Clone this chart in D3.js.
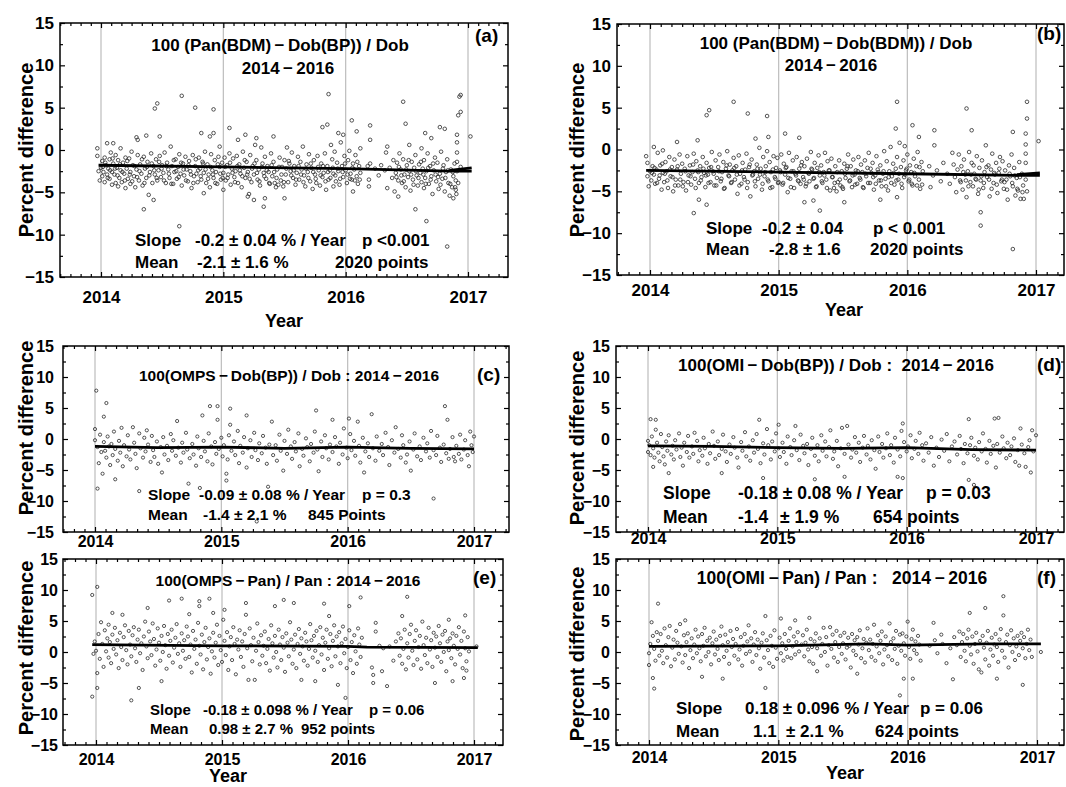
<!DOCTYPE html>
<html>
<head>
<meta charset="utf-8">
<script src="https://cdn.jsdelivr.net/npm/d3@7"></script>
<style>
body { margin: 0; background: #fff; }
svg { display: block; }
text { font-family: "Liberation Sans", Arial, sans-serif; font-weight: bold; fill: #000; }
</style>
</head>
<body>
<svg id="chart" width="1066" height="787"></svg>
<script>
// ticks
var yearTicks = [2014, 2015, 2016, 2017];
var pctTicks = [-15, -10, -5, 0, 5, 10, 15];

// points: [years since 2014-01-01, percent difference]
var ptsA = [[-0.03,0.2],[-0.03,-0.7],[-0.02,-2.5],[-0.01,-3.6],[0,-2.1],[0.01,-1.3],[0.01,-3.1],[0.02,-2.6],[0.03,-0.9],[0.03,-3.8],[0.04,-1.8],[0.05,-2.9],[0.05,0.8],[0.06,-2.2],[0.07,-1.1],[0.07,-3.4],[0.08,-0.3],[0.09,-2.6],[0.09,-4.1],[0.1,-1.6],[0.1,0.8],
[0.11,-2.9],[0.12,-3.9],[0.12,-0.6],[0.13,-2.1],[0.14,-4.3],[0.14,-1.2],[0.15,-3.3],[0.16,-2.4],[0.16,0.2],[0.17,-3.8],[0.18,-1.5],[0.19,-2.8],[0.2,-4.5],[0.2,-0.9],[0.21,-2.2],[0.22,-3.4],[0.23,-1.0],[0.24,-4.0],[0.24,-2.6],[0.25,-0.2],[0.26,-1.8],[0.27,-3.1],[0.28,-4.4],[0.29,1.5],[0.29,-2.3],[0.3,-0.6],[0.3,1.2],
[0.31,-3.6],[0.32,-1.7],[0.33,-2.8],[0.34,-4.2],[0.35,-7.0],[0.35,-0.8],[0.36,-2.2],[0.37,1.7],[0.37,-3.3],[0.38,-1.4],[0.39,-5.3],[0.4,-2.6],[0.41,-0.4],[0.42,-3.9],[0.43,-5.9],[0.43,-1.9],[0.44,4.9],[0.44,-2.9],[0.45,-1.1],[0.46,5.5],[0.46,-3.6],[0.47,-2.4],[0.48,1.6],[0.48,-0.7],[0.49,-3.2],[0.5,-1.8],
[0.51,-2.7],[0.52,-0.3],[0.53,-3.9],[0.54,-1.5],[0.55,-2.3],[0.56,-3.3],[0.57,0.4],[0.58,-1.9],[0.59,-4.0],[0.6,-2.6],[0.61,-1.1],[0.62,-3.4],[0.63,-2.0],[0.64,-9.0],[0.64,-0.5],[0.65,-2.8],[0.66,6.4],[0.66,-4.2],[0.67,-1.6],[0.68,-3.0],[0.69,-0.8],[0.7,-2.3],
[0.71,-3.7],[0.72,-1.3],[0.73,-2.5],[0.74,-4.5],[0.75,-0.6],[0.76,-3.1],[0.77,5.0],[0.77,-1.9],[0.78,-2.8],[0.79,-3.8],[0.8,-0.9],[0.81,-2.2],[0.82,2.0],[0.82,-3.5],[0.83,-1.4],[0.84,-5.1],[0.84,-2.7],[0.85,-0.2],[0.86,-3.9],[0.87,-1.7],[0.88,-2.9],[0.89,1.6],[0.89,-4.4],[0.9,-0.5],
[0.91,-2.4],[0.92,4.8],[0.92,2.0],[0.92,-3.3],[0.93,-1.2],[0.94,-2.6],[0.95,-4.0],[0.96,-0.8],[0.97,0.4],[0.97,-2.0],[0.98,-3.5],[0.99,-1.5],
[1.0,-4.7],[1.0,-2.7],[1.01,-0.9],[1.02,-3.6],[1.03,-1.8],[1.04,-2.9],[1.05,2.6],[1.05,-0.4],[1.06,-4.1],[1.07,-2.2],[1.08,-1.0],[1.09,-3.2],[1.1,-2.5],[1.11,-0.7],[1.12,1.2],[1.12,-3.9],[1.13,-1.7],[1.14,-2.8],[1.15,-4.4],[1.16,-0.2],[1.17,-2.1],[1.18,1.8],[1.18,-3.3],[1.19,-1.4],[1.2,-5.5],[1.2,-2.6],
[1.21,-5.2],[1.22,-0.6],[1.23,-3.8],[1.24,-1.9],[1.25,-5.9],[1.25,-2.9],[1.26,0.6],[1.27,1.4],[1.27,-1.2],[1.28,-3.5],[1.29,-2.3],[1.3,-4.2],[1.31,0.3],[1.32,-1.6],[1.33,-6.7],[1.33,-2.7],[1.34,-5.7],[1.34,-0.8],[1.35,-3.4],[1.36,-1.9],[1.37,-2.6],[1.38,-4.0],[1.39,-0.4],[1.4,-3.1],[1.41,1.6],[1.41,-1.4],[1.42,-3.9],[1.43,-4.4],[1.44,-2.3],[1.45,-4.1],[1.46,-0.9],[1.47,-3.6],[1.48,-2.0],[1.49,-4.3],
[1.5,-5.7],[1.5,-1.2],[1.51,-2.9],[1.52,0.3],[1.53,-3.8],[1.54,-1.6],[1.55,-2.5],[1.56,-0.3],[1.57,-3.3],[1.58,-1.9],[1.59,-4.1],[1.6,-2.7],[1.61,-0.8],[1.62,-3.5],[1.63,-1.4],[1.64,-2.3],[1.65,0.4],[1.66,-3.0],[1.67,-4.3],[1.68,-1.7],[1.69,-2.6],[1.7,-0.5],
[1.71,-3.7],[1.72,-2.1],[1.73,-4.6],[1.74,-1.2],[1.75,-2.9],[1.76,-3.9],[1.77,-0.7],[1.78,-2.4],[1.79,-4.2],[1.8,-1.6],[1.81,2.7],[1.81,-3.2],[1.82,-2.7],[1.83,-0.4],[1.84,-4.7],[1.85,3.0],[1.85,-1.9],[1.86,6.6],[1.86,-3.5],[1.87,-2.4],[1.88,0.6],[1.89,-1.1],[1.9,-4.3],[1.9,-2.8],[1.91,-0.2],[1.92,-3.7],[1.93,-1.5],[1.94,2.0],[1.94,-2.5],[1.95,-4.1],[1.96,0.9],[1.97,-1.9],[1.98,1.8],[1.98,-3.2],[1.99,-0.7],
[2.0,-2.4],[2.01,-3.9],[2.02,-1.2],[2.03,-0.1],[2.04,-2.8],[2.05,3.5],[2.05,-3.5],[2.06,-4.9],[2.06,-1.6],[2.07,-2.3],[2.08,-0.6],[2.09,2.2],[2.09,-3.1],[2.1,-4.0],[2.11,-1.9],[2.12,0.2],[2.12,-2.7],
[2.18,-1.9],[2.19,-3.5],[2.19,-4.3],[2.2,2.9],[2.2,1.2],[2.2,-1.6],[2.24,-2.2],[2.27,-3.0],[2.29,-1.8],[2.32,-2.4],[2.33,-0.3],[2.34,0.4],[2.34,-4.5],[2.36,-2.1],[2.38,-3.3],[2.39,-1.2],[2.4,-4.9],
[2.41,-2.7],[2.42,-1.5],[2.43,-5.5],[2.43,-3.6],[2.44,-0.4],[2.45,-2.3],[2.46,-3.9],[2.47,5.7],[2.47,-1.1],[2.48,-2.9],[2.49,3.1],[2.49,-4.4],[2.5,-1.8],[2.51,-3.2],[2.52,0.6],[2.52,-2.5],[2.53,-4.8],[2.54,-1.4],[2.55,-3.5],[2.56,-2.1],[2.57,-7.0],[2.57,-0.6],[2.58,-3.0],[2.59,-4.2],[2.6,-1.7],[2.61,-2.7],[2.62,0.2],[2.62,-3.8],[2.63,-2.2],[2.64,-4.5],[2.64,-1.2],[2.65,2.0],[2.65,-3.3],[2.66,-8.4],[2.66,-2.5],[2.67,-0.4],[2.68,-4.0],[2.69,-1.9],[2.7,-3.1],[2.7,1.4],[2.71,-5.2],[2.72,-2.4],[2.73,-0.9],[2.74,-3.7],[2.75,-1.5],[2.76,-4.6],[2.77,2.7],[2.77,-2.8],[2.78,-0.2],[2.79,-3.4],[2.8,-1.8],[2.81,2.5],[2.81,-4.9],[2.82,-2.6],[2.83,-11.4],[2.83,-1.1],[2.84,-3.9],[2.85,-5.4],[2.86,-2.3],[2.87,-4.4],[2.88,-3.1],[2.88,-5.7],[2.89,-1.6],[2.9,-4.7],[2.9,-3.6],
[2.91,1.8],[2.91,0.9],[2.91,-0.3],[2.91,-1.4],[2.91,-2.5],[2.92,4.1],[2.92,-3.9],[2.93,6.3],[2.94,6.5],[2.94,4.5],[2.94,-2.0],[3.02,1.6],
[0.015,-2.0],[0.035,-1.5],[0.055,-3.3],[0.075,-2.4],[0.095,-1.0],[0.115,-2.2],[0.135,-3.0],[0.155,-1.7],[0.175,-2.6],[0.195,-3.6],[0.215,-1.3],[0.235,-2.9],[0.255,-3.7],[0.275,-1.9],[0.295,-3.2],[0.315,-2.5],[0.335,-1.1],[0.355,-3.9],[0.375,-2.0],[0.395,-3.0],[0.415,-1.6],[0.435,-2.4],[0.455,-3.3],[0.475,-1.4],[0.495,-2.2],[0.515,-3.6],[0.535,-1.9],[0.555,-2.8],[0.575,-4.0],[0.595,-1.2],[0.615,-2.5],[0.635,-3.2],[0.655,-1.5],[0.675,-2.3],[0.695,-3.6],[0.715,-1.8],[0.735,-2.9],[0.755,-3.9],[0.775,-1.1],[0.795,-2.4],[0.815,-3.1],[0.835,-1.6],[0.855,-2.3],[0.875,-3.4],[0.895,-2.0],[0.915,-2.9],[0.935,-3.9],[0.955,-1.7],[0.975,-2.8],[0.995,-3.3],
[1.015,-2.0],[1.035,-3.3],[1.055,-1.5],[1.075,-2.7],[1.095,-3.8],[1.115,-1.9],[1.135,-2.4],[1.155,-3.1],[1.175,-1.2],[1.195,-2.9],[1.215,-3.4],[1.235,-2.2],[1.255,-1.6],[1.275,-2.7],[1.295,-3.7],[1.315,-2.0],[1.335,-3.1],[1.355,-2.4],[1.375,-3.9],[1.395,-1.8],[1.415,-2.6],[1.435,-3.3],[1.455,-2.0],[1.475,-2.9],[1.495,-3.8],[1.515,-2.2],[1.535,-1.3],[1.555,-3.0],[1.575,-2.4],[1.595,-3.5],[1.615,-1.9],[1.635,-2.9],[1.655,-3.8],[1.675,-2.2],[1.695,-3.3],[1.715,-1.6],[1.735,-2.6],[1.755,-3.4],[1.775,-2.0],[1.795,-3.0],[1.815,-1.9],[1.835,-3.7],[1.855,-2.6],[1.875,-3.3],[1.895,-2.1],[1.915,-3.0],[1.935,-2.2],[1.955,-3.4],[1.975,-2.6],[1.995,-1.6],
[2.015,-2.9],[2.035,-3.4],[2.055,-2.1],[2.075,-3.6],[2.095,-1.4],[2.115,-3.5],
[2.415,-3.2],[2.435,-2.0],[2.455,-3.0],[2.475,-3.7],[2.495,-2.3],[2.515,-1.2],[2.535,-2.9],[2.555,-4.1],[2.575,-2.5],[2.595,-3.3],[2.615,-1.4],[2.635,-2.9],[2.655,-4.0],[2.675,-2.1],[2.695,-3.5],[2.715,-1.6],[2.735,-2.9],[2.755,-3.2],[2.775,-4.1],[2.795,-2.2],[2.815,-3.3],[2.835,-2.4],[2.855,-4.0],[2.875,-2.6],[2.895,-4.4],[2.905,-5.2]];

var ptsB = [[-0.03,-0.8],[-0.02,-1.6],[-0.02,-3.2],[-0.01,-4.4],[0,-2.6],[0.01,-3.7],[0.02,-2.0],[0.03,0.3],[0.03,-3.0],[0.04,-4.1],[0.05,-2.4],[0.06,-0.4],[0.07,-3.5],[0.08,-1.9],[0.09,-4.8],[0.1,-2.8],[0.1,-0.1],
[0.11,-3.9],[0.12,-1.5],[0.13,-2.6],[0.14,-4.6],[0.15,-0.9],[0.16,-3.2],[0.17,-2.1],[0.18,-5.0],[0.19,-1.2],[0.2,-3.6],[0.21,0.9],[0.21,-2.4],[0.22,-4.3],[0.23,-0.6],[0.24,-2.9],[0.25,-1.7],[0.26,-3.9],[0.27,-2.3],[0.28,-4.9],[0.29,-0.8],[0.3,-3.1],
[0.31,-1.9],[0.32,-4.2],[0.33,-2.7],[0.34,-7.6],[0.34,-0.5],[0.35,-3.5],[0.36,-1.4],[0.37,1.1],[0.37,-2.5],[0.38,-6.0],[0.38,-4.0],[0.39,-2.0],[0.4,-3.3],[0.41,-0.9],[0.42,-2.8],[0.43,-4.5],[0.44,4.1],[0.44,-6.6],[0.44,-1.6],[0.45,-3.0],[0.46,4.7],[0.46,-2.2],[0.47,-3.9],[0.48,-0.3],[0.49,-2.6],[0.5,-4.3],
[0.51,-1.3],[0.52,-3.4],[0.53,-2.1],[0.54,-0.6],[0.55,-3.8],[0.56,-2.7],[0.57,-1.5],[0.58,-4.6],[0.59,-2.3],[0.6,-0.2],[0.61,-3.1],[0.62,-1.8],[0.63,-4.0],[0.64,-2.5],[0.65,5.7],[0.65,-1.0],[0.66,-3.6],[0.67,-2.0],[0.68,-5.3],[0.69,-0.7],[0.7,-2.9],
[0.71,-4.1],[0.72,-1.6],[0.73,-3.3],[0.74,-2.4],[0.75,-0.5],[0.76,4.3],[0.76,-3.9],[0.77,-2.1],[0.78,-5.6],[0.79,-1.2],[0.8,-3.0],[0.81,-2.6],[0.82,1.3],[0.82,-4.4],[0.83,-1.8],[0.84,-3.5],[0.85,0.2],[0.86,-2.3],[0.87,-4.8],[0.88,-0.9],[0.89,-3.2],[0.9,-2.0],
[0.91,4.0],[0.91,-0.2],[0.92,1.5],[0.92,-3.8],[0.93,-1.5],[0.94,-2.7],[0.95,-4.5],[0.96,-0.8],[0.97,-3.3],[0.98,-2.2],[0.99,-1.0],
[1.0,-3.9],[1.01,-2.5],[1.02,-0.6],[1.03,-4.2],[1.04,-1.7],[1.05,1.9],[1.05,-3.0],[1.06,-2.1],[1.07,-5.1],[1.08,-0.4],[1.09,-3.5],[1.1,-2.6],[1.11,-1.3],[1.12,-4.6],[1.13,-2.9],[1.14,-0.9],[1.15,-3.7],[1.16,1.4],[1.16,-2.3],[1.17,-4.1],[1.18,-1.5],[1.19,-3.3],[1.2,-6.3],[1.2,-2.0],
[1.21,-4.4],[1.22,-1.1],[1.23,-2.8],[1.24,-3.8],[1.25,-0.3],[1.26,-2.4],[1.27,-6.1],[1.27,-3.5],[1.28,-1.6],[1.29,-4.5],[1.3,-2.2],[1.31,-0.7],[1.32,-7.3],[1.32,-3.1],[1.33,-1.9],[1.34,-4.0],[1.35,-2.7],[1.36,-0.4],[1.37,-3.6],[1.38,-1.4],[1.39,-2.5],[1.4,-4.9],[1.41,-1.1],[1.42,-3.3],[1.43,-4.6],[1.44,-2.0],[1.45,-5.0],[1.46,-3.9],[1.47,-1.3],[1.48,-4.3],[1.49,-2.6],
[1.5,-4.7],[1.51,-6.3],[1.51,-1.7],[1.52,-3.4],[1.53,-2.3],[1.54,-0.6],[1.55,-3.8],[1.56,-2.0],[1.57,-4.5],[1.58,-1.2],[1.59,-3.0],[1.6,-2.5],[1.61,-4.1],[1.62,-0.9],[1.63,-3.4],[1.64,-1.8],[1.65,-2.7],[1.66,-4.6],[1.67,-1.3],[1.68,-3.2],[1.69,-2.2],[1.7,-0.4],
[1.71,-4.0],[1.72,-2.8],[1.73,-1.6],[1.74,-4.8],[1.75,-3.1],[1.76,-0.8],[1.77,-2.4],[1.78,-3.7],[1.79,-6.0],[1.79,-1.9],[1.8,-4.4],[1.81,-2.9],[1.82,-0.2],[1.83,-3.5],[1.84,-1.4],[1.85,-4.9],[1.86,-2.6],[1.87,0.3],[1.88,-3.2],[1.89,-1.7],[1.9,-4.2],[1.91,2.5],[1.91,-2.3],[1.92,5.7],[1.92,-5.7],[1.92,-0.9],[1.93,-3.6],[1.94,0.8],[1.95,-2.1],[1.96,-4.6],[1.97,-1.3],[1.98,0.4],[1.98,-3.0],[1.99,-2.5],
[2.0,-0.6],[2.01,-3.8],[2.02,-1.9],[2.03,-2.7],[2.04,2.9],[2.04,-4.3],[2.05,-1.1],[2.06,-3.2],[2.07,-2.0],[2.08,-0.3],[2.09,1.5],[2.09,-3.6],[2.1,-4.7],[2.11,-1.5],[2.12,-2.6],
[2.17,-2.0],[2.18,-4.5],[2.2,-3.1],[2.21,2.3],[2.21,0.5],[2.23,-2.5],[2.26,-3.8],[2.28,-1.6],[2.31,-2.9],[2.33,-4.1],[2.35,-0.4],[2.36,-1.8],[2.37,-3.3],[2.38,-5.1],[2.39,-2.4],[2.4,-0.6],
[2.41,-3.7],[2.42,-2.0],[2.43,-4.8],[2.44,-1.2],[2.45,-3.0],[2.46,4.9],[2.46,-5.7],[2.47,-2.6],[2.48,-0.3],[2.49,-3.9],[2.5,2.3],[2.5,-1.6],[2.51,-4.4],[2.52,-2.9],[2.53,-3.5],[2.54,-0.8],[2.55,-5.3],[2.56,-2.2],[2.57,-9.1],[2.57,-7.5],[2.57,-3.7],[2.58,-1.3],[2.59,-4.6],[2.6,-2.7],[2.61,0.5],[2.62,-3.3],[2.63,-1.9],[2.64,-5.6],[2.65,-2.4],[2.66,-0.5],[2.67,-4.0],[2.68,-3.0],[2.69,-1.6],[2.7,-5.2],[2.71,-2.8],[2.72,-0.9],[2.73,-3.8],[2.74,-1.4],[2.75,-4.7],[2.76,-2.5],[2.77,-3.6],[2.78,-6.0],[2.79,-1.9],[2.8,-3.2],[2.81,-0.6],[2.82,2.1],[2.82,-11.9],[2.82,-4.4],[2.83,-2.2],[2.84,-5.5],[2.85,-3.4],[2.86,-4.9],[2.87,-1.5],[2.88,-5.9],[2.89,-2.9],[2.9,-4.3],
[2.93,5.7],[2.93,3.7],[2.92,1.9],[2.92,0.6],[2.92,-0.5],[2.92,-1.6],[2.92,-3.6],[2.93,-5.0],[3.02,1.0],
[0.015,-2.8],[0.035,-2.2],[0.055,-4.0],[0.075,-3.1],[0.095,-1.7],[0.115,-2.9],[0.135,-3.7],[0.155,-2.4],[0.175,-3.3],[0.195,-4.3],[0.215,-2.0],[0.235,-3.6],[0.255,-4.4],[0.275,-2.6],[0.295,-3.9],[0.315,-3.2],[0.335,-1.8],[0.355,-4.6],[0.375,-2.7],[0.395,-3.7],[0.415,-2.3],[0.435,-3.1],[0.455,-4.0],[0.475,-2.1],[0.495,-2.9],[0.515,-4.3],[0.535,-2.6],[0.555,-3.5],[0.575,-4.7],[0.595,-1.9],[0.615,-3.2],[0.635,-3.9],[0.655,-2.2],[0.675,-3.0],[0.695,-4.3],[0.715,-2.5],[0.735,-3.6],[0.755,-4.6],[0.775,-1.8],[0.795,-3.1],[0.815,-3.8],[0.835,-2.3],[0.855,-3.0],[0.875,-4.1],[0.895,-2.7],[0.915,-3.6],[0.935,-4.6],[0.955,-2.4],[0.975,-3.5],[0.995,-4.0],
[1.015,-2.7],[1.035,-4.0],[1.055,-2.2],[1.075,-3.4],[1.095,-4.5],[1.115,-2.6],[1.135,-3.1],[1.155,-3.8],[1.175,-1.9],[1.195,-3.6],[1.215,-4.1],[1.235,-2.9],[1.255,-2.3],[1.275,-3.4],[1.295,-4.4],[1.315,-2.7],[1.335,-3.8],[1.355,-3.1],[1.375,-4.6],[1.395,-2.5],[1.415,-3.3],[1.435,-4.0],[1.455,-2.7],[1.475,-3.6],[1.495,-4.5],[1.515,-2.9],[1.535,-2.0],[1.555,-3.7],[1.575,-3.1],[1.595,-4.2],[1.615,-2.6],[1.635,-3.6],[1.655,-4.5],[1.675,-2.9],[1.695,-4.0],[1.715,-2.3],[1.735,-3.3],[1.755,-4.1],[1.775,-2.7],[1.795,-3.7],[1.815,-2.6],[1.835,-4.4],[1.855,-3.3],[1.875,-4.0],[1.895,-2.8],[1.915,-3.7],[1.935,-2.9],[1.955,-4.1],[1.975,-3.3],[1.995,-2.3],
[2.015,-3.6],[2.035,-4.1],[2.055,-2.8],[2.075,-4.3],[2.095,-2.1],[2.115,-4.2],
[2.415,-3.9],[2.435,-2.7],[2.455,-3.7],[2.475,-4.4],[2.495,-3.0],[2.515,-1.9],[2.535,-3.6],[2.555,-4.8],[2.575,-3.2],[2.595,-4.0],[2.615,-2.1],[2.635,-3.6],[2.655,-4.7],[2.675,-2.8],[2.695,-4.2],[2.715,-2.3],[2.735,-3.6],[2.755,-3.9],[2.775,-4.8],[2.795,-2.9],[2.815,-4.0],[2.835,-3.1],[2.855,-4.7],[2.875,-3.3],[2.895,-5.1],[2.905,-5.9]];

var ptsC = [[0,-0.2],[0,1.6],[0.01,7.8],[0.02,-8.0],[0.02,-1.3],[0.03,-3.9],[0.04,0.7],[0.05,-2.1],[0.06,-5.6],[0.07,3.6],[0.07,-0.5],[0.08,-1.9],[0.09,5.8],[0.09,-3.0],[0.1,0.4],[0.11,-1.2],[0.12,-4.2],[0.13,-0.8],[0.14,-2.6],[0.15,1.2],[0.16,-6.5],[0.16,-1.6],[0.18,-3.5],[0.19,-0.3],[0.2,-2.2],[0.21,1.8],[0.22,-4.4],[0.23,-1.0],[0.25,-2.8],[0.26,0.6],[0.27,-1.7],[0.28,-3.3],[0.3,1.9],[0.31,-0.6],[0.32,-2.4],[0.33,-4.7],[0.35,-8.4],[0.35,0.9],[0.36,-1.5],[0.38,-3.0],[0.39,0.2],[0.4,-2.0],[0.41,1.4],[0.42,-0.9],[0.44,-3.7],[0.45,0.5],[0.46,-1.8],[0.47,-2.9],[0.49,-0.4],[0.5,-4.0],[0.52,-1.3],[0.53,-5.4],[0.54,0.3],[0.55,-2.5],[0.57,-1.1],[0.58,-3.4],[0.6,0.8],[0.61,-1.9],[0.62,-0.2],[0.64,-2.7],[0.65,2.9],[0.66,-1.4],[0.68,-3.8],[0.69,-0.6],[0.7,-2.2],[0.72,1.0],[0.73,-1.7],[0.74,-7.2],[0.75,-3.1],[0.77,-0.8],[0.78,-2.5],[0.8,-4.3],[0.81,0.4],[0.82,-1.5],[0.83,-7.9],[0.84,-2.9],[0.85,3.8],[0.86,-0.3],[0.87,-2.0],[0.89,-3.6],[0.9,0.9],[0.91,5.3],[0.92,-1.2],[0.93,-4.1],[0.95,-0.5],[0.96,-2.4],[0.97,5.3],[0.97,3.1],[0.98,-1.6],
[1.0,0.2],[1.01,-2.8],[1.02,-1.0],[1.04,-5.6],[1.04,-6.7],[1.05,-3.3],[1.06,0.6],[1.07,4.9],[1.07,2.3],[1.08,-1.9],[1.1,-0.4],[1.11,-2.6],[1.13,1.3],[1.14,-3.9],[1.15,-1.1],[1.17,-2.2],[1.18,0.3],[1.2,3.8],[1.2,-4.6],[1.21,-1.5],[1.23,-0.2],[1.24,-2.9],[1.26,1.0],[1.27,-1.8],[1.28,-13.3],[1.29,-3.4],[1.3,-0.7],[1.32,-2.3],[1.33,0.5],[1.35,-1.4],[1.36,-4.0],[1.37,-7.7],[1.38,-0.9],[1.4,2.8],[1.41,-2.6],[1.43,-1.0],[1.44,-3.5],[1.46,0.7],[1.47,-1.9],[1.49,-5.1],[1.5,-0.3],[1.52,-2.4],[1.53,1.5],[1.55,-1.2],[1.56,-3.2],[1.58,-0.5],[1.59,-2.0],[1.61,0.9],[1.62,-4.4],[1.64,-1.6],[1.65,-2.7],[1.67,0.1],[1.68,-1.3],[1.7,-3.6],[1.71,-0.8],[1.73,-2.2],[1.74,1.2],[1.75,4.6],[1.76,-1.7],[1.77,-5.2],[1.79,-0.4],[1.8,-2.9],[1.82,0.6],[1.83,-1.5],[1.85,-3.3],[1.86,-0.9],[1.88,3.1],[1.88,-2.1],[1.9,0.3],[1.91,-1.2],[1.93,-4.0],[1.94,-0.6],[1.96,-2.5],[1.97,1.7],[1.99,-1.4],
[2.0,-3.1],[2.01,3.3],[2.02,0.8],[2.03,-1.8],[2.05,-0.3],[2.06,-2.7],[2.08,2.8],[2.09,-1.1],[2.1,-3.8],[2.12,0.2],[2.13,-5.4],[2.14,-2.0],[2.16,-0.7],[2.17,-2.9],[2.19,4.0],[2.2,-1.5],[2.22,-3.5],[2.23,0.4],[2.25,-1.9],[2.27,-0.8],[2.28,-2.6],[2.3,1.0],[2.32,-1.3],[2.33,-4.2],[2.35,-0.2],[2.37,-2.2],[2.38,1.9],[2.4,-1.6],[2.42,-3.0],[2.43,0.6],[2.44,-1.0],[2.46,-3.8],[2.47,-2.5],[2.49,-0.4],[2.5,-5.1],[2.52,-1.7],[2.53,0.9],[2.55,-2.8],[2.57,-1.2],[2.58,-3.4],[2.6,0.2],[2.62,-2.0],[2.63,-0.7],[2.65,-3.0],[2.66,1.3],[2.68,-9.6],[2.68,-1.8],[2.7,-2.6],[2.71,0.5],[2.73,-1.4],[2.74,-3.7],[2.76,-0.9],[2.77,5.3],[2.78,-2.3],[2.79,3.1],[2.8,-3.2],[2.81,-1.6],[2.83,0.3],[2.84,-2.9],[2.85,-3.6],[2.86,-1.1],[2.88,-2.4],[2.89,0.7],[2.9,-3.3],[2.92,-1.7],[2.93,-0.2],[2.95,-2.6],[2.96,-4.4],[2.97,1.2],[2.98,-1.0],[2.99,-2.1],[3.0,0.4]];

var ptsD = [[0,-0.3],[0,-2.1],[0.01,-1.0],[0.02,3.2],[0.02,-2.6],[0.03,0.4],[0.04,-4.5],[0.04,-1.5],[0.05,-3.0],[0.06,3.1],[0.06,1.5],[0.07,-0.6],[0.08,-2.2],[0.09,-3.6],[0.1,0.8],[0.11,-1.3],[0.12,-2.8],[0.13,-4.1],[0.14,-0.4],[0.15,-1.9],[0.16,-5.5],[0.16,0.6],[0.18,-2.5],[0.19,-1.1],[0.2,-3.3],[0.21,-0.2],[0.22,-1.7],[0.24,0.9],[0.25,-2.9],[0.26,-1.4],[0.27,-4.3],[0.28,-0.6],[0.3,-2.1],[0.31,0.5],[0.32,-3.0],[0.34,-1.2],[0.35,-2.4],[0.36,1.0],[0.38,-0.3],[0.39,-3.6],[0.4,-1.8],[0.42,-2.7],[0.43,0.2],[0.44,-1.5],[0.46,-4.0],[0.47,-0.8],[0.48,-2.3],[0.5,1.2],[0.51,-1.1],[0.52,-3.2],[0.54,-0.4],[0.55,-2.6],[0.57,-5.5],[0.57,-1.6],[0.58,0.7],[0.6,-2.0],[0.61,-3.7],[0.63,-0.9],[0.64,-2.4],[0.66,0.3],[0.67,-1.4],[0.69,-3.0],[0.7,-4.6],[0.72,-0.5],[0.73,-1.9],[0.75,1.1],[0.76,-2.8],[0.78,-1.2],[0.79,-3.5],[0.81,-0.2],[0.82,-2.2],[0.84,0.8],[0.85,-1.6],[0.86,3.1],[0.87,-3.9],[0.89,-6.3],[0.89,-0.7],[0.9,-2.5],[0.92,1.6],[0.93,-1.0],[0.95,-3.3],[0.96,-0.4],[0.98,-2.0],[0.99,0.9],
[1.01,2.3],[1.01,-1.5],[1.02,-2.9],[1.04,-0.6],[1.05,-2.1],[1.07,-4.0],[1.08,0.4],[1.1,-1.3],[1.11,-2.6],[1.13,-0.2],[1.14,2.1],[1.15,-1.8],[1.17,-3.4],[1.18,0.7],[1.2,-1.1],[1.21,-2.3],[1.23,-0.8],[1.24,-4.2],[1.26,-1.6],[1.27,0.2],[1.29,-6.5],[1.29,-2.7],[1.31,-1.0],[1.32,-3.6],[1.34,0.6],[1.35,-1.9],[1.37,-0.4],[1.38,-2.8],[1.4,-1.3],[1.41,1.4],[1.43,-3.2],[1.44,-2.0],[1.46,-0.3],[1.47,-4.4],[1.49,-1.5],[1.5,1.8],[1.52,-6.1],[1.52,-2.4],[1.54,2.1],[1.55,-0.9],[1.57,-3.0],[1.58,-1.7],[1.6,0.3],[1.61,-2.2],[1.63,-0.6],[1.64,-3.7],[1.66,-1.4],[1.67,0.5],[1.69,-2.5],[1.7,-1.1],[1.72,-3.3],[1.73,-0.2],[1.75,-1.8],[1.76,-4.8],[1.78,0.4],[1.79,-2.1],[1.81,-0.8],[1.82,-3.0],[1.84,-1.5],[1.85,0.9],[1.87,-2.6],[1.88,-1.0],[1.9,-3.8],[1.91,0.2],[1.93,-6.1],[1.93,-1.7],[1.95,-2.8],[1.96,1.3],[1.97,2.5],[1.97,-6.3],[1.98,-0.5],
[2.0,-2.0],[2.01,-1.2],[2.03,0.6],[2.04,-3.1],[2.06,-1.6],[2.07,-0.3],[2.09,-2.4],[2.1,1.0],[2.12,-1.0],[2.13,-3.5],[2.15,-0.7],[2.17,-2.2],[2.19,0.3],[2.21,-4.3],[2.23,-1.4],[2.25,-2.9],[2.27,-0.1],[2.29,-1.9],[2.31,0.8],[2.33,-3.6],[2.35,-1.2],[2.37,-0.4],[2.39,-2.5],[2.41,0.5],[2.42,-1.6],[2.44,-3.9],[2.45,-0.8],[2.47,-2.3],[2.48,3.2],[2.48,-6.6],[2.49,-1.0],[2.5,0.2],[2.52,-7.4],[2.52,-2.7],[2.53,-1.4],[2.55,-3.3],[2.56,-0.5],[2.58,-2.0],[2.59,0.9],[2.61,-1.6],[2.62,-3.8],[2.64,-0.3],[2.65,-2.4],[2.67,-1.1],[2.68,3.3],[2.69,-4.6],[2.7,-0.8],[2.71,3.4],[2.72,-2.2],[2.74,0.4],[2.75,-1.5],[2.77,-3.1],[2.78,-0.6],[2.8,-2.6],[2.81,-1.2],[2.83,0.1],[2.84,-3.7],[2.86,-1.8],[2.87,-4.3],[2.88,1.7],[2.89,-0.9],[2.91,-2.3],[2.92,-4.5],[2.94,-1.3],[2.95,-0.2],[2.96,-5.4],[2.97,1.4],[2.98,-2.0],[3.0,0.6]];

var ptsE = [[-0.03,9.2],[-0.03,-7.2],[-0.02,-0.3],[-0.01,1.7],[0,0.2],[0.01,10.5],[0.01,-5.8],[0.01,-3.4],[0.02,2.9],[0.03,-1.1],[0.04,4.8],[0.05,1.3],[0.06,-2.4],[0.07,3.5],[0.08,0.1],[0.09,2.2],[0.1,4.4],[0.1,-0.9],[0.11,1.6],[0.12,-1.8],[0.13,6.3],[0.13,2.8],[0.14,0.5],[0.15,3.9],[0.16,-0.4],[0.17,1.9],[0.18,-2.6],[0.19,3.1],[0.2,0.8],[0.21,6.0],[0.21,-1.3],[0.22,2.4],[0.23,4.3],[0.24,0.3],[0.25,-2.0],[0.26,3.4],[0.27,1.2],[0.28,-7.8],[0.28,-0.7],[0.29,2.7],[0.3,4.0],[0.31,0.6],[0.32,-1.6],[0.33,2.0],[0.34,-5.8],[0.34,3.6],[0.35,-0.2],[0.36,1.4],[0.37,-2.9],[0.38,2.5],[0.39,4.9],[0.4,0.9],[0.41,7.1],[0.41,-1.0],[0.42,3.3],[0.43,1.7],[0.44,-0.5],[0.45,4.6],[0.46,2.1],[0.47,-2.2],[0.48,0.4],[0.49,3.8],[0.5,1.5],[0.51,-1.4],[0.52,-4.7],[0.52,2.6],[0.53,0.0],[0.54,4.2],[0.55,1.1],[0.56,-2.7],[0.57,2.9],[0.58,8.3],[0.58,-0.6],[0.59,1.8],[0.6,3.6],[0.61,-1.7],[0.62,0.7],[0.63,2.3],[0.64,4.5],[0.65,-0.3],[0.66,1.4],[0.67,-2.4],[0.68,8.6],[0.68,3.0],[0.69,0.2],[0.7,1.9],[0.71,-1.1],[0.72,4.1],[0.73,2.5],[0.74,6.1],[0.74,-0.8],[0.75,1.2],[0.76,-3.3],[0.77,3.4],[0.78,0.5],[0.79,2.0],[0.8,-1.9],[0.81,4.7],[0.82,8.2],[0.82,7.4],[0.82,1.0],[0.83,-0.4],[0.84,2.8],[0.85,-2.8],[0.86,1.6],[0.87,3.9],[0.88,-1.2],[0.89,0.8],[0.9,8.6],[0.9,2.2],[0.91,-3.5],[0.92,0.1],[0.93,6.3],[0.93,3.1],[0.94,-0.9],[0.95,1.5],[0.96,4.4],[0.97,-2.1],[0.98,2.6],[0.99,0.3],
[1.0,-1.6],[1.01,5.2],[1.02,6.8],[1.02,1.8],[1.03,-0.5],[1.04,3.2],[1.05,-2.9],[1.06,0.9],[1.07,2.4],[1.08,-1.3],[1.09,4.0],[1.1,1.3],[1.11,-3.6],[1.12,2.0],[1.13,0.4],[1.14,3.5],[1.15,-0.8],[1.16,1.7],[1.17,-2.4],[1.18,2.9],[1.19,7.9],[1.19,6.0],[1.2,0.6],[1.21,-4.5],[1.22,3.8],[1.23,1.1],[1.24,-1.5],[1.25,2.3],[1.26,-4.5],[1.27,0.2],[1.28,4.6],[1.29,1.6],[1.3,-2.0],[1.31,2.7],[1.32,-0.6],[1.33,1.0],[1.34,3.3],[1.35,-1.8],[1.36,0.5],[1.37,2.1],[1.38,-3.0],[1.39,4.3],[1.4,1.4],[1.41,-0.9],[1.42,7.4],[1.42,2.6],[1.43,0.0],[1.44,-2.5],[1.45,3.6],[1.46,1.2],[1.47,-1.3],[1.48,2.4],[1.49,8.4],[1.49,0.7],[1.5,-3.2],[1.51,3.0],[1.52,1.5],[1.53,-0.7],[1.54,4.8],[1.55,2.0],[1.56,-1.9],[1.57,7.9],[1.57,0.4],[1.58,2.8],[1.59,-2.6],[1.6,1.3],[1.61,3.7],[1.62,-0.3],[1.63,-4.5],[1.63,2.2],[1.64,0.9],[1.65,-1.4],[1.66,3.1],[1.67,1.7],[1.68,-2.2],[1.69,0.5],[1.7,4.5],[1.71,1.9],[1.72,-0.9],[1.73,2.6],[1.74,-4.7],[1.74,0.2],[1.75,3.4],[1.76,-1.6],[1.77,1.1],[1.78,4.0],[1.79,-0.4],[1.8,2.3],[1.81,7.8],[1.81,-2.9],[1.82,1.5],[1.83,3.6],[1.84,-1.1],[1.85,5.8],[1.85,0.6],[1.86,2.9],[1.87,-2.3],[1.88,1.8],[1.89,4.3],[1.9,-0.7],[1.91,2.5],[1.92,-5.3],[1.92,0.9],[1.93,3.2],[1.94,-1.8],[1.95,1.4],[1.96,4.1],[1.97,-0.2],[1.98,-7.4],[1.98,2.1],[1.99,-2.6],
[2.0,0.8],[2.01,7.4],[2.01,3.5],[2.02,-1.3],[2.03,1.6],[2.04,-3.4],[2.05,2.7],[2.06,0.1],[2.07,-1.9],[2.08,3.8],[2.09,1.2],[2.1,8.8],[2.1,-0.8],[2.11,2.3],
[2.19,-2.5],[2.2,-3.7],[2.2,-5.0],[2.22,4.7],[2.22,3.3],[2.25,1.0],[2.27,-3.1],[2.28,0.6],[2.31,-5.5],[2.33,0.9],[2.36,-1.4],[2.38,1.7],[2.4,3.0],[2.41,-0.6],[2.42,2.2],[2.43,5.8],[2.43,-1.9],[2.44,0.5],[2.45,3.6],[2.46,-2.8],[2.47,8.9],[2.47,1.4],[2.48,-0.9],[2.49,2.9],[2.5,4.4],[2.51,0.2],[2.52,-2.1],[2.53,1.8],[2.54,3.5],[2.55,-1.2],[2.56,0.8],[2.57,2.6],[2.58,-2.7],[2.59,4.9],[2.6,1.1],[2.61,-0.5],[2.62,2.3],[2.63,-1.8],[2.64,3.9],[2.65,0.4],[2.66,1.9],[2.67,-2.4],[2.68,3.1],[2.69,-5.0],[2.69,0.7],[2.7,2.5],[2.71,-0.8],[2.72,4.2],[2.73,1.4],[2.74,-1.6],[2.75,2.8],[2.76,0.0],[2.77,3.4],[2.78,-3.1],[2.79,1.7],[2.8,5.2],[2.8,0.3],[2.81,2.2],[2.82,-1.0],[2.83,-4.7],[2.83,3.0],[2.84,1.0],[2.85,-2.0],[2.86,2.6],[2.87,0.5],[2.88,4.0],[2.89,-0.4],[2.9,1.8],[2.91,-2.6],[2.92,-4.2],[2.92,3.3],[2.93,5.9],[2.93,0.6],[2.94,-1.5],[2.94,-3.0],[2.95,2.4],[2.96,0.1],[3.02,0.9]];

var ptsF = [[0,-0.2],[0,-2.1],[0.01,1.3],[0.02,4.8],[0.03,-4.2],[0.03,2.6],[0.04,-5.9],[0.04,0.5],[0.05,-1.4],[0.06,3.2],[0.07,7.8],[0.07,1.8],[0.08,-0.6],[0.09,2.9],[0.1,0.2],[0.11,-1.8],[0.12,3.8],[0.13,1.1],[0.14,-0.9],[0.15,2.4],[0.16,4.2],[0.17,-2.3],[0.18,0.7],[0.19,2.0],[0.2,-1.2],[0.21,3.4],[0.22,1.5],[0.23,-0.3],[0.24,4.5],[0.25,0.9],[0.26,-1.7],[0.27,2.7],[0.28,5.1],[0.28,-0.5],[0.29,1.6],[0.3,3.0],[0.31,-2.6],[0.32,0.3],[0.33,2.2],[0.34,-1.0],[0.35,1.2],[0.36,3.6],[0.37,-0.2],[0.38,2.5],[0.39,0.6],[0.4,-1.5],[0.41,-4.0],[0.41,2.9],[0.42,1.0],[0.43,3.9],[0.44,-0.7],[0.45,1.8],[0.46,0.0],[0.47,2.3],[0.48,-2.0],[0.49,1.4],[0.5,3.3],[0.51,-0.4],[0.52,2.0],[0.53,0.5],[0.54,-1.3],[0.55,2.6],[0.56,4.1],[0.57,-4.3],[0.57,1.1],[0.58,-0.8],[0.59,2.8],[0.6,0.2],[0.61,1.6],[0.62,-1.9],[0.63,3.4],[0.64,0.8],[0.65,2.1],[0.66,-0.6],[0.67,1.3],[0.68,3.7],[0.69,-1.2],[0.7,0.4],[0.71,2.4],[0.72,-2.2],[0.73,1.0],[0.74,2.9],[0.75,-0.3],[0.76,1.7],[0.77,4.3],[0.78,0.1],[0.79,2.2],[0.8,-1.6],[0.81,1.2],[0.82,3.2],[0.83,-0.5],[0.84,2.0],[0.85,0.6],[0.86,-2.7],[0.87,1.5],[0.88,3.0],[0.89,-0.9],[0.9,5.8],[0.9,-5.8],[0.91,1.9],[0.92,0.3],[0.93,-1.8],[0.94,2.6],[0.95,1.0],[0.96,-2.4],[0.97,3.5],[0.98,0.7],[0.99,-1.1],
[1.01,2.3],[1.02,5.4],[1.02,-0.2],[1.03,1.4],[1.04,-1.4],[1.05,2.9],[1.06,0.5],[1.07,-0.8],[1.08,1.8],[1.09,3.8],[1.1,-1.0],[1.11,0.9],[1.12,2.5],[1.13,5.1],[1.13,-0.4],[1.14,1.6],[1.15,3.2],[1.16,0.1],[1.18,1.2],[1.19,2.7],[1.2,-0.7],[1.21,1.5],[1.22,3.6],[1.23,0.4],[1.24,5.5],[1.24,-1.5],[1.25,2.1],[1.26,0.8],[1.27,-1.9],[1.28,1.7],[1.29,3.0],[1.3,-3.1],[1.3,0.6],[1.32,2.2],[1.33,-0.6],[1.34,1.3],[1.35,3.9],[1.36,0.0],[1.37,2.4],[1.38,-2.2],[1.39,1.1],[1.4,4.0],[1.41,0.5],[1.42,2.8],[1.43,-0.9],[1.44,1.6],[1.45,3.4],[1.46,-1.6],[1.47,0.8],[1.48,2.6],[1.49,-0.3],[1.5,1.4],[1.51,3.1],[1.52,-1.2],[1.53,0.7],[1.54,2.3],[1.55,1.0],[1.56,-2.5],[1.57,2.9],[1.58,0.2],[1.59,1.9],[1.6,-0.5],[1.61,-3.5],[1.61,2.4],[1.62,1.2],[1.63,3.5],[1.64,-1.0],[1.65,0.6],[1.66,2.1],[1.67,-1.7],[1.68,1.5],[1.69,3.8],[1.7,0.3],[1.71,2.0],[1.72,-0.8],[1.73,1.3],[1.74,4.4],[1.75,-1.4],[1.76,0.9],[1.77,2.7],[1.78,-0.2],[1.79,1.8],[1.8,3.3],[1.81,-2.0],[1.82,0.4],[1.83,2.5],[1.84,1.1],[1.85,-0.7],[1.86,4.6],[1.87,1.6],[1.88,-1.3],[1.89,2.2],[1.9,0.5],[1.91,3.4],[1.92,-1.9],[1.93,1.0],[1.94,-7.0],[1.94,2.8],[1.95,0.2],[1.96,3.0],[1.97,-4.3],[1.97,1.4],[1.98,-0.6],[1.99,2.5],
[2.0,4.9],[2.01,0.8],[2.02,-1.1],[2.03,2.1],[2.04,-4.3],[2.04,3.6],[2.05,0.3],[2.06,1.7],[2.07,-0.3],[2.08,2.6],[2.09,1.2],[2.1,-1.4],
[2.17,1.0],[2.2,4.7],[2.21,1.9],[2.23,-0.2],[2.26,2.8],[2.27,1.3],[2.3,-1.8],[2.33,0.6],[2.35,-4.4],[2.36,2.4],
[2.38,1.1],[2.4,3.3],[2.41,-0.8],[2.42,1.6],[2.43,2.9],[2.44,0.2],[2.45,-1.5],[2.46,2.2],[2.47,3.6],[2.48,6.3],[2.48,1.0],[2.49,-0.4],[2.5,2.5],[2.51,-1.9],[2.52,1.3],[2.53,3.1],[2.54,0.1],[2.55,-2.8],[2.56,1.8],[2.57,-3.3],[2.58,2.6],[2.59,0.7],[2.6,7.1],[2.6,-1.2],[2.61,1.5],[2.62,3.4],[2.63,-2.2],[2.64,0.4],[2.65,2.3],[2.66,-0.6],[2.67,1.2],[2.68,2.9],[2.69,-4.3],[2.69,0.8],[2.7,-1.6],[2.71,2.0],[2.72,3.7],[2.73,0.2],[2.74,9.0],[2.74,5.9],[2.75,-0.9],[2.76,1.6],[2.77,2.8],[2.78,-2.5],[2.79,1.1],[2.8,3.5],[2.81,0.0],[2.82,2.2],[2.83,-1.3],[2.84,0.9],[2.85,2.6],[2.86,-0.5],[2.87,1.8],[2.88,3.1],[2.89,-5.3],[2.89,0.6],[2.9,2.4],[2.91,-1.0],[2.92,1.3],[2.93,3.6],[2.94,0.3],[2.95,2.0],[2.96,-0.8],[3.03,0.0]];

// fitted lines (segments of [years since 2014, percent])
var trendA = [[[-0.02,-1.8],[1.0,-2.0],[2.0,-2.2],[2.85,-2.5],[3.03,-2.5]], [[2.85,-2.4],[3.03,-2.1]]];
var trendB = [[[-0.03,-2.5],[1.0,-2.7],[2.0,-2.9],[2.85,-3.1],[3.03,-3.1]], [[2.85,-3.0],[3.03,-2.8]]];
var trendC = [[[0,-1.2],[0.5,-1.4],[1.0,-1.3],[1.5,-1.5],[2.0,-1.3],[2.5,-1.5],[3.0,-1.6]]];
var trendD = [[[0,-1.1],[0.5,-1.2],[1.0,-1.4],[1.5,-1.5],[2.0,-1.4],[2.5,-1.7],[3.0,-1.8]]];
var trendE = [[[-0.03,1.2],[1.0,1.0],[2.0,0.9],[2.15,0.8],[3.03,0.7]]];
var trendF = [[[0,0.9],[1.0,1.0],[1.7,1.3],[2.0,1.1],[2.6,1.3],[3.03,1.3]]];

// texts
var titlesA = ["100 (Pan(BDM)\u2009\u2212\u2009Dob(BP)) / Dob", "2014\u2009\u2212\u20092016"];
var titlesB = ["100 (Pan(BDM)\u2009\u2212\u2009Dob(BDM)) / Dob", "2014\u2009\u2212\u20092016"];
var titlesC = ["100(OMPS\u2009\u2212\u2009Dob(BP)) / Dob : 2014\u2009\u2212\u20092016"];
var titlesD = ["100(OMI\u2009\u2212\u2009Dob(BP)) / Dob :  2014\u2009\u2212\u20092016"];
var titlesE = ["100(OMPS\u2009\u2212\u2009Pan) / Pan : 2014\u2009\u2212\u20092016"];
var titlesF = ["100(OMI\u2009\u2212\u2009Pan) / Pan :   2014\u2009\u2212\u20092016"];
var statsA = [["Slope", "-0.2 \u00b1 0.04 % / Year", "p <0.001"], ["Mean", "-2.1 \u00b1 1.6 %", "2020 points"]];
var statsB = [["Slope", "-0.2 \u00b1 0.04", "p < 0.001"], ["Mean", "-2.8 \u00b1 1.6", "2020 points"]];
var statsC = [["Slope", "-0.09 \u00b1 0.08 % / Year", "p = 0.3"], ["Mean", "-1.4 \u00b1 2.1 %", "845 Points"]];
var statsD = [["Slope", "-0.18 \u00b1 0.08 % / Year", "p = 0.03"], ["Mean", "-1.4", "\u00b1 1.9 %", "654 points"]];
var statsE = [["Slope", "-0.18 \u00b1 0.098 % / Year", "p = 0.06"], ["Mean", "0.98 \u00b1 2.7 %", "952 points"]];
var statsF = [["Slope", "0.18 \u00b1 0.096 % / Year", "p = 0.06"], ["Mean", "1.1", "\u00b1 2.1 %", "624 points"]];

var svg = d3.select("#chart");

// layout for each panel (pixel positions only)
var panels = [
    {tag: "(a)", pts: ptsA, trend: trendA, titles: titlesA, stats: statsA,
     L: 60, R: 508, T: 23, B: 277, x14: 101, x17: 468, fs: 17, r: 1.8,
     titleX: [280, 288], titleY: [51, 74], titleFs: 17, tagX: 475, tagY: 42,
     statX: [[135, 195, 362], [135, 197, 335]], statY: [246, 268], statFs: 17,
     xLabY: 303, yLabGap: 6, ylabX: 33, ylabY: 150, yearX: 284, yearY: 327},
    {tag: "(b)", pts: ptsB, trend: trendB, titles: titlesB, stats: statsB,
     L: 617, R: 1064, T: 24, B: 275, x14: 650, x17: 1036, fs: 17, r: 1.8,
     titleX: [836, 831], titleY: [49, 71], titleFs: 17, tagX: 1037, tagY: 40,
     statX: [[706, 762, 873], [706, 769, 870]], statY: [234, 255], statFs: 17,
     xLabY: 296, yLabGap: 6, ylabX: 584, ylabY: 150, yearX: 844, yearY: 316},
    {tag: "(c)", pts: ptsC, trend: trendC, titles: titlesC, stats: statsC,
     L: 63, R: 509, T: 346, B: 532, x14: 95, x17: 474, fs: 16, r: 1.6,
     titleX: [289], titleY: [381], titleFs: 15.5, tagX: 477, tagY: 381,
     statX: [[148, 199, 362], [148, 203, 308]], statY: [500, 520], statFs: 15.5,
     xLabY: 547, yLabGap: 9, ylabX: 33, ylabY: 428, yearX: null},
    {tag: "(d)", pts: ptsD, trend: trendD, titles: titlesD, stats: statsD,
     L: 616, R: 1064, T: 346, B: 532, x14: 648, x17: 1036, fs: 16, r: 1.6,
     titleX: [836], titleY: [371], titleFs: 17, tagX: 1037, tagY: 371,
     statX: [[663, 738, 926], [663, 738, 780, 873]], statY: [499, 523], statFs: 17.5,
     xLabY: 544, yLabGap: 6, ylabX: 584, ylabY: 438, yearX: null},
    {tag: "(e)", pts: ptsE, trend: trendE, titles: titlesE, stats: statsE,
     L: 63, R: 503, T: 559, B: 745, x14: 96, x17: 474, fs: 16, r: 1.6,
     titleX: [288], titleY: [586], titleFs: 15.5, tagX: 473, tagY: 584,
     statX: [[150, 203, 369], [150, 209, 301]], statY: [715, 734], statFs: 15,
     xLabY: 765, yLabGap: 5, ylabX: 33, ylabY: 648, yearX: 228, yearY: 782},
    {tag: "(f)", pts: ptsF, trend: trendF, titles: titlesF, stats: statsF,
     L: 616, R: 1064, T: 559, B: 745, x14: 649, x17: 1037, fs: 16, r: 1.6,
     titleX: [842], titleY: [584], titleFs: 17.5, tagX: 1037, tagY: 584,
     statX: [[676, 745, 920], [676, 753, 786, 875]], statY: [714, 737], statFs: 17,
     xLabY: 763, yLabGap: 6, ylabX: 584, ylabY: 654, yearX: 845, yearY: 779}
];

panels.forEach(drawPanel);

function drawPanel(p) {
    var g = svg.append("g");
    var x = d3.scaleLinear().domain([2014, 2017]).range([p.x14, p.x17]);
    var y = d3.scaleLinear().domain([-15, 15]).range([p.B, p.T]);
    var xMin = x.invert(p.L), xMax = x.invert(p.R);

    // vertical grid at each year
    g.selectAll("line.grid")
        .data(yearTicks)
        .enter()
        .append("line")
        .attr("x1", function(d) { return x(d); })
        .attr("x2", function(d) { return x(d); })
        .attr("y1", p.T)
        .attr("y2", p.B)
        .attr("stroke", "#bdbdbd")
        .attr("stroke-width", 1.2);

    // scatter
    g.append("g")
        .selectAll("circle")
        .data(p.pts)
        .enter()
        .append("circle")
        .attr("cx", function(d) { return x(2014 + d[0]); })
        .attr("cy", function(d) { return y(d[1]); })
        .attr("r", p.r)
        .attr("fill", "none")
        .attr("stroke", "#2a2a2a")
        .attr("stroke-width", 0.8);

    // fitted line
    var line = d3.line()
        .x(function(d) { return x(2014 + d[0]); })
        .y(function(d) { return y(d[1]); });
    p.trend.forEach(function(seg) {
        g.append("path")
            .attr("d", line(seg))
            .attr("fill", "none")
            .attr("stroke", "#000")
            .attr("stroke-width", 2.8);
    });

    // minor tick positions
    var months = d3.range(-12, 48).map(function(k) { return 2014 + k / 12; })
        .filter(function(v) { return v > xMin && v < xMax && Math.abs(v - Math.round(v)) > 1e-6; });
    var halfTicks = d3.range(-12.5, 15, 5);

    function clean(sel) {
        sel.select(".domain").remove();
        sel.selectAll(".tick line").attr("stroke", "#000").attr("stroke-width", 1.2);
        return sel;
    }

    // bottom
    var bot = clean(g.append("g").attr("transform", "translate(0," + p.B + ")")
        .call(d3.axisBottom(x).tickValues(yearTicks).tickSize(-5)
            .tickPadding(p.xLabY - p.B - 0.71 * p.fs).tickFormat(d3.format("d"))));
    bot.selectAll("text").style("font-size", p.fs + "px");
    clean(g.append("g").attr("transform", "translate(0," + p.B + ")")
        .call(d3.axisBottom(x).tickValues(months).tickSize(-3).tickFormat("")));
    // top
    clean(g.append("g").attr("transform", "translate(0," + p.T + ")")
        .call(d3.axisTop(x).tickValues(yearTicks).tickSize(-5).tickFormat("")));
    clean(g.append("g").attr("transform", "translate(0," + p.T + ")")
        .call(d3.axisTop(x).tickValues(months).tickSize(-3).tickFormat("")));
    // left
    var lft = clean(g.append("g").attr("transform", "translate(" + p.L + ",0)")
        .call(d3.axisLeft(y).tickValues(pctTicks).tickSize(-5).tickPadding(p.yLabGap)));
    lft.selectAll("text").style("font-size", p.fs + "px");
    clean(g.append("g").attr("transform", "translate(" + p.L + ",0)")
        .call(d3.axisLeft(y).tickValues(halfTicks).tickSize(-3).tickFormat("")));
    // right
    clean(g.append("g").attr("transform", "translate(" + p.R + ",0)")
        .call(d3.axisRight(y).tickValues(pctTicks).tickSize(-5).tickFormat("")));
    clean(g.append("g").attr("transform", "translate(" + p.R + ",0)")
        .call(d3.axisRight(y).tickValues(halfTicks).tickSize(-3).tickFormat("")));
    g.selectAll(".tick text").attr("fill", "#000").attr("font-family", null);

    // frame
    g.append("rect")
        .attr("x", p.L).attr("y", p.T)
        .attr("width", p.R - p.L).attr("height", p.B - p.T)
        .attr("fill", "none")
        .attr("stroke", "#000")
        .attr("stroke-width", 1.5);

    // titles
    p.titles.forEach(function(t, i) {
        g.append("text")
            .attr("x", p.titleX[i]).attr("y", p.titleY[i])
            .attr("text-anchor", "middle")
            .style("font-size", p.titleFs + "px")
            .style("white-space", "pre")
            .text(t);
    });
    g.append("text")
        .attr("x", p.tagX).attr("y", p.tagY)
        .style("font-size", "19px")
        .text(p.tag);

    // slope / mean
    p.stats.forEach(function(row, i) {
        row.forEach(function(s, j) {
            g.append("text")
                .attr("x", p.statX[i][j]).attr("y", p.statY[i])
                .style("font-size", p.statFs + "px")
                .text(s);
        });
    });

    // axis titles
    g.append("text")
        .attr("transform", "translate(" + p.ylabX + "," + p.ylabY + ") rotate(-90)")
        .attr("text-anchor", "middle")
        .style("font-size", "20px")
        .text("Percent difference");
    if (p.yearX) {
        g.append("text")
            .attr("x", p.yearX).attr("y", p.yearY)
            .attr("text-anchor", "middle")
            .style("font-size", "18px")
            .text("Year");
    }
}
</script>
</body>
</html>
